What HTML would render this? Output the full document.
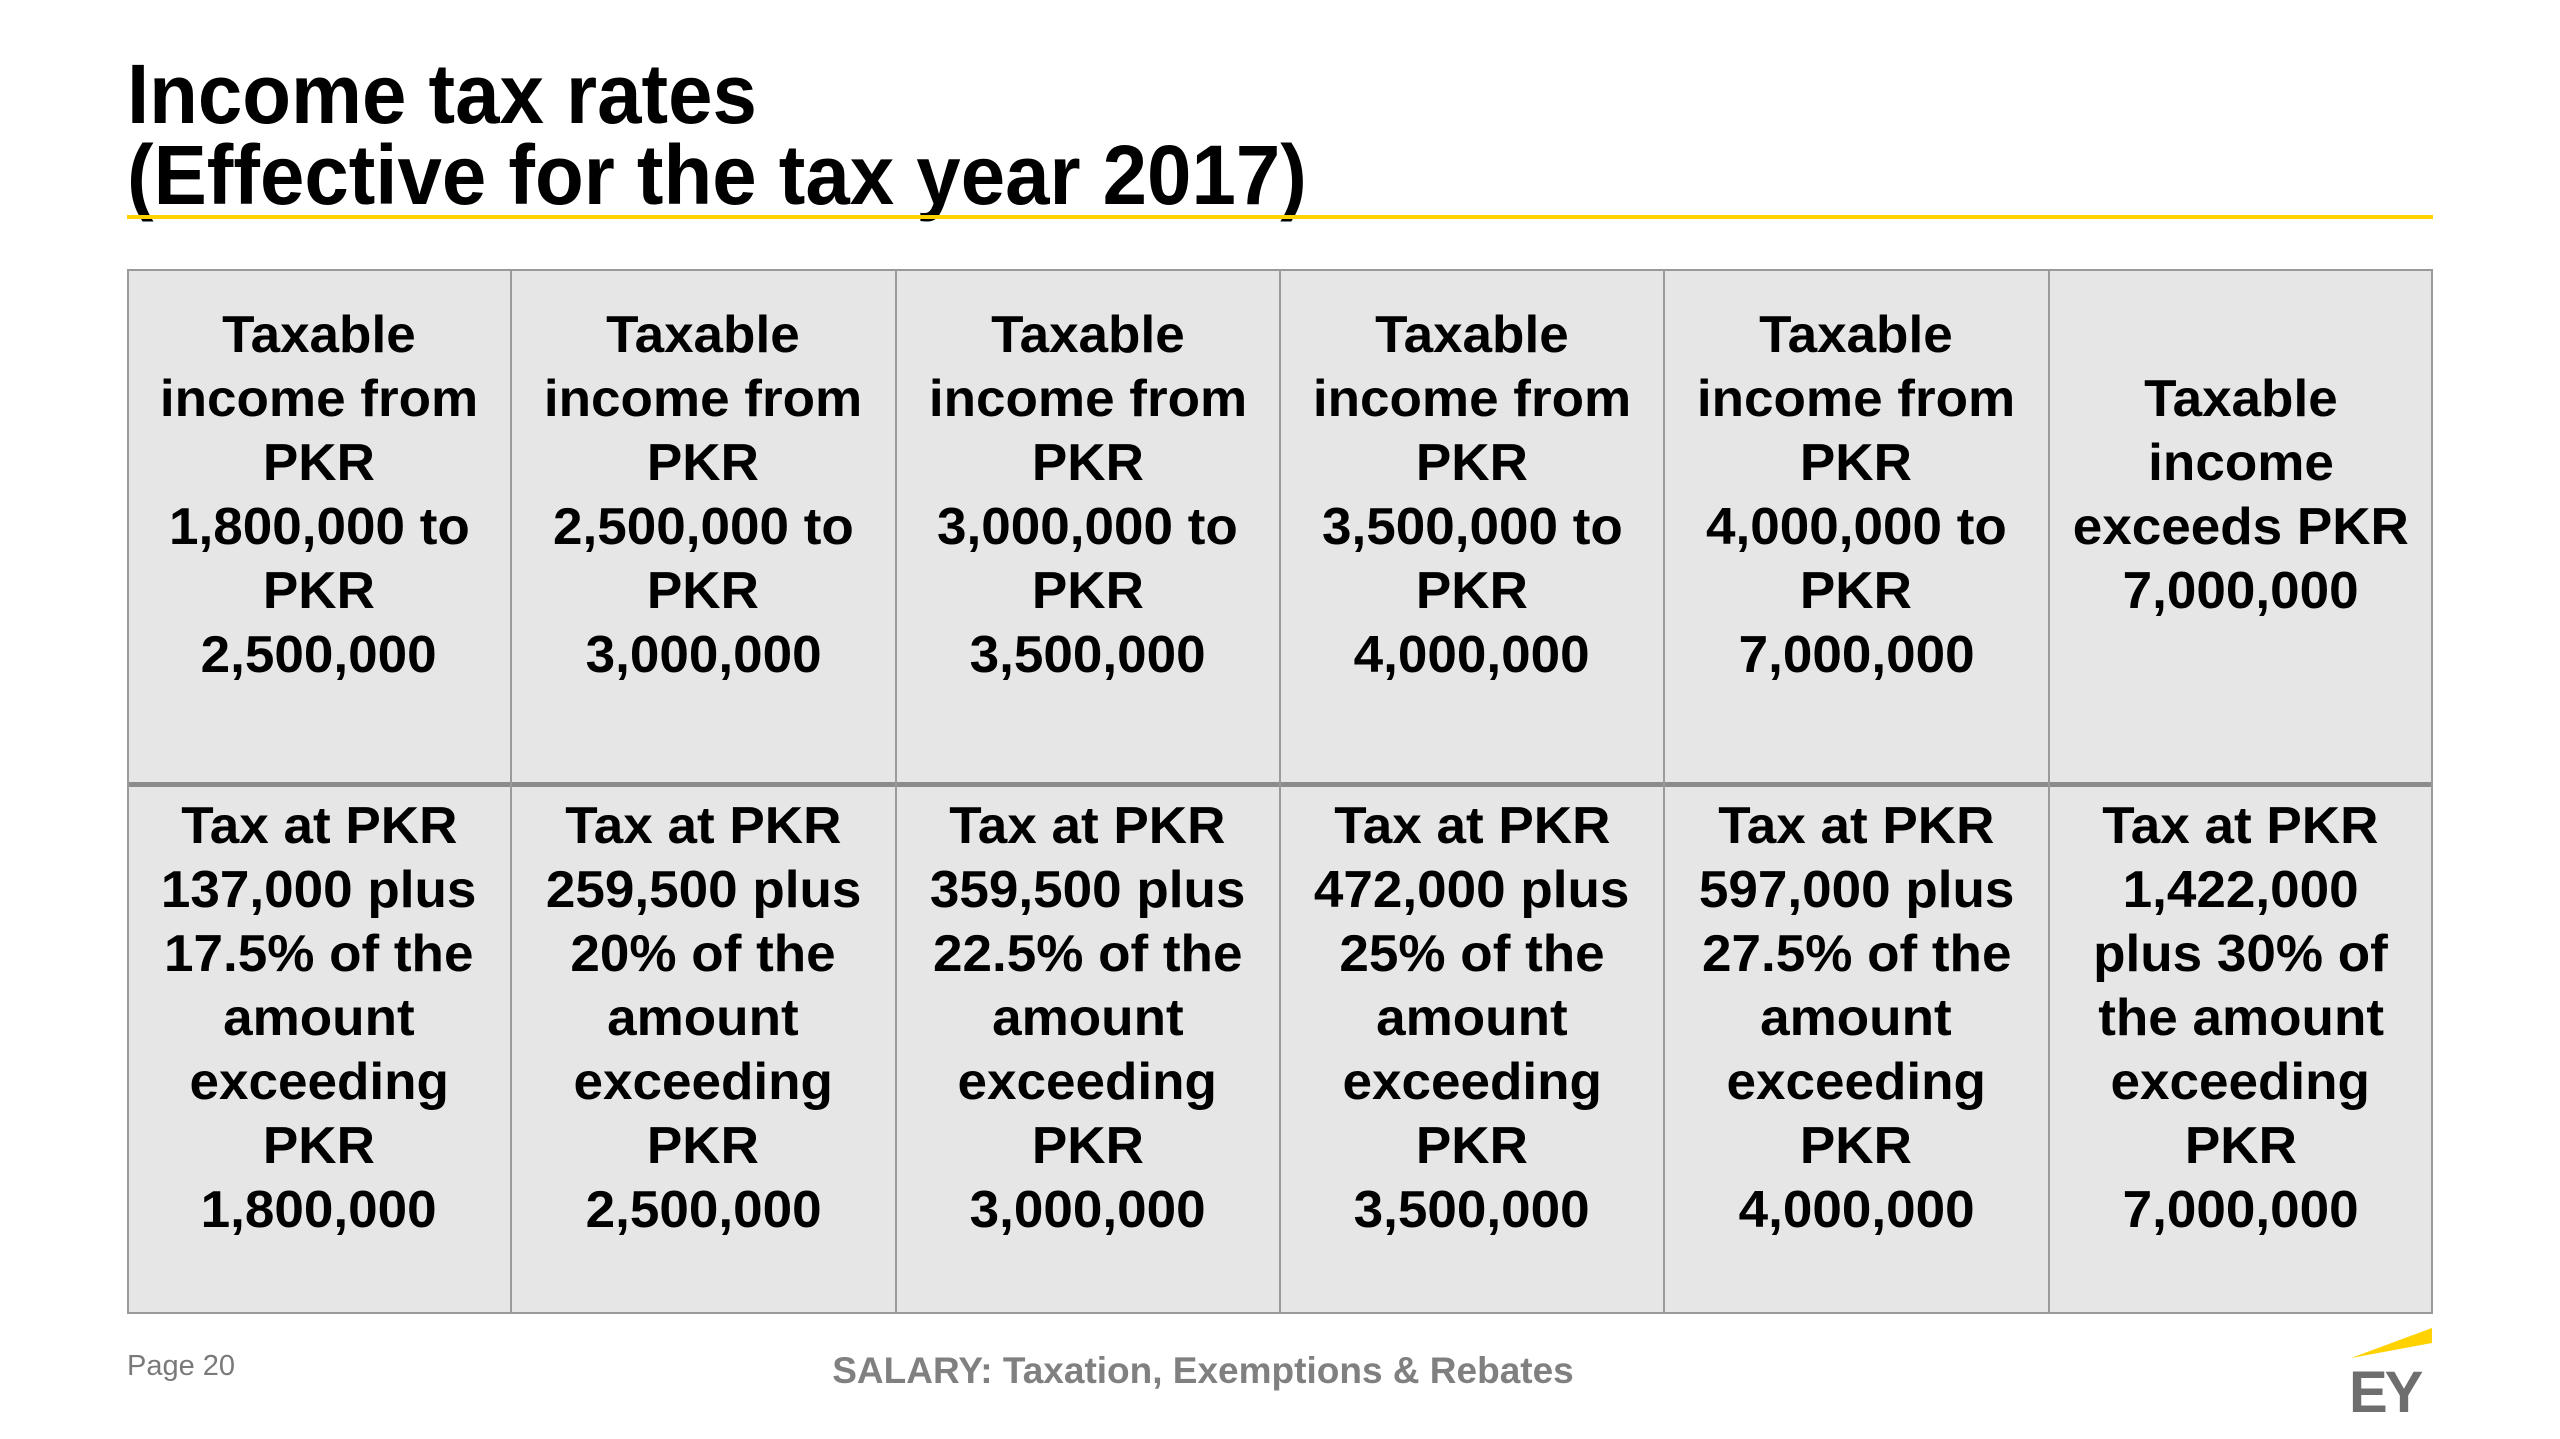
<!DOCTYPE html>
<html><head><meta charset="utf-8"><style>
html,body{margin:0;padding:0;background:#fff;}
body{width:2560px;height:1439px;position:relative;overflow:hidden;font-family:"Liberation Sans",Arial,sans-serif;}
.t{position:absolute;left:127px;font-weight:bold;font-size:84px;color:#000;transform-origin:0 0;transform:scaleX(0.95);white-space:nowrap;line-height:1;}
#rule{position:absolute;left:127px;top:215px;width:2306px;height:4px;background:#ffd200;}
#tbl{position:absolute;left:127px;top:269px;width:2306px;height:1045px;background:#e6e6e6;border:2px solid #9a9a9a;box-sizing:border-box;}
.vl{position:absolute;top:0;width:2px;height:100%;background:#9a9a9a;}
#mid{position:absolute;left:0;top:511px;width:100%;height:5px;background:#8c8c8c;}
.cell{position:absolute;width:384px;display:flex;flex-direction:column;justify-content:center;align-items:center;text-align:center;font-weight:bold;font-size:52px;line-height:64px;color:#000;}
.cell span{display:block;white-space:nowrap;transform:scaleX(1.02);}
#page{position:absolute;left:127px;top:1350px;font-size:29px;color:#7a7a7a;transform-origin:0 0;}
#foot{position:absolute;left:1203px;top:1350px;font-size:37px;font-weight:bold;color:#808080;white-space:nowrap;transform:translateX(-50%);}
#ey{position:absolute;left:2349px;top:1364px;font-size:58px;font-weight:bold;color:#6e6e6e;letter-spacing:-3px;line-height:1;}
</style></head><body>
<div class="t" style="top:52px;">Income tax rates</div>
<div class="t" style="top:133px;">(Effective for the tax year 2017)</div>
<div id="rule"></div>
<div id="tbl">
<div id="mid"></div>
</div>
<div id="page">Page 20</div>
<div id="foot">SALARY: Taxation, Exemptions &amp; Rebates</div>
<svg style="position:absolute;left:0;top:0" width="2560" height="1439"><polygon points="2351,1358 2432,1328 2432,1343" fill="#ffd200"/></svg>
<div id="ey">EY</div>
<script>
const ranges=[["Taxable","income from","PKR","1,800,000 to","PKR","2,500,000"],["Taxable","income from","PKR","2,500,000 to","PKR","3,000,000"],["Taxable","income from","PKR","3,000,000 to","PKR","3,500,000"],["Taxable","income from","PKR","3,500,000 to","PKR","4,000,000"],["Taxable","income from","PKR","4,000,000 to","PKR","7,000,000"],["Taxable","income","exceeds PKR","7,000,000"]];
const taxes=[["Tax at PKR","137,000 plus","17.5% of the","amount","exceeding","PKR","1,800,000"],["Tax at PKR","259,500 plus","20% of the","amount","exceeding","PKR","2,500,000"],["Tax at PKR","359,500 plus","22.5% of the","amount","exceeding","PKR","3,000,000"],["Tax at PKR","472,000 plus","25% of the","amount","exceeding","PKR","3,500,000"],["Tax at PKR","597,000 plus","27.5% of the","amount","exceeding","PKR","4,000,000"],["Tax at PKR","1,422,000","plus 30% of","the amount","exceeding","PKR","7,000,000"]];
const tbl=document.getElementById('tbl');
const colW=2306/6;
for(let i=1;i<6;i++){const v=document.createElement('div');v.className='vl';


v.style.left=(i*colW-3)+'px';tbl.appendChild(v);}
function addCell(lines,i,top,h,name){const c=document.createElement('div');c.className='cell';


c.style.left=(127+i*colW)+'px';c.style.top=top+'px';c.style.height=h+'px';
lines.forEach(l=>{const s=document.createElement('span');s.textContent=l;c.appendChild(s);});
document.body.appendChild(c);}
ranges.forEach((r,i)=>addCell(r,i,304,382,'income-range-cell'));
taxes.forEach((r,i)=>addCell(r,i,795,446,'tax-formula-cell'));
</script>
</body></html>
